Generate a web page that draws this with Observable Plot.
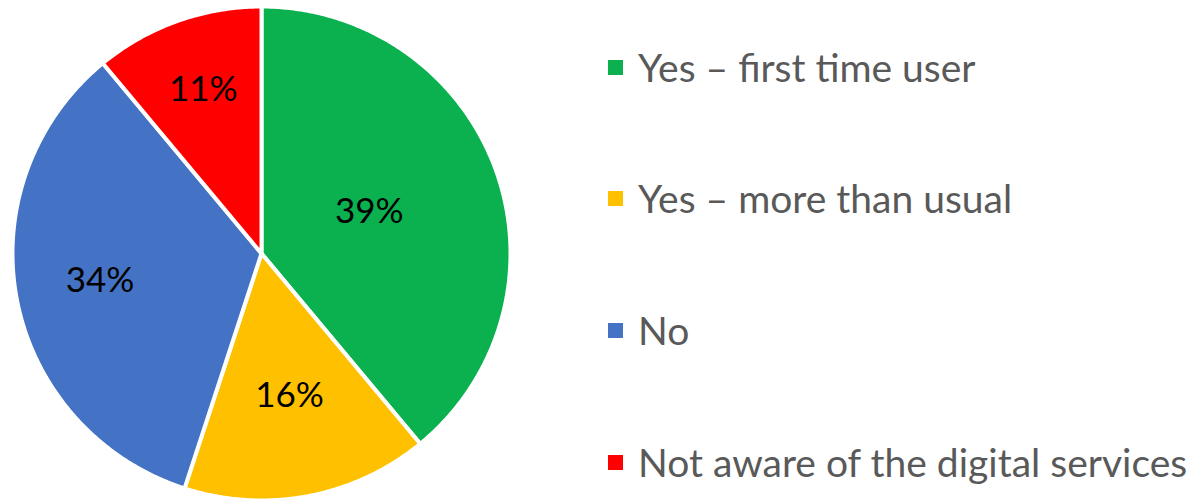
<!DOCTYPE html>
<html>
<head>
<meta charset="utf-8">
<script src="https://cdn.jsdelivr.net/npm/d3@7"></script>
<script src="https://cdn.jsdelivr.net/npm/@observablehq/plot@0.6"></script>
<style>
  html, body { margin: 0; padding: 0; background: #fff; }
  #wrap { position: relative; width: 1202px; height: 503px; overflow: hidden; }
  #chart { position: absolute; left: 0; top: 0; }
  #legend { position: absolute; left: 608px; top: 0; font-family: Lato, "Open Sans", sans-serif; color: #595959; }
  .item { position: absolute; left: 0; white-space: nowrap; display: flex; align-items: center; }
  .sw { width: 15px; height: 15px; margin-right: 15px; flex: none; }
  .lbl { font-size: 39px; line-height: 1; }
</style>
</head>
<body>
<div id="wrap">
  <div id="chart"></div>
  <div id="legend"></div>
</div>
<script>
const categories = ["Yes \u2013 first time user", "Yes \u2013 more than usual", "No", "Not aware of the digital services"];
const values = [39, 16, 34, 11];
const colors = ["#0BB04F", "#FFC000", "#4472C4", "#FF0000"];

// layout (label distance from centre as fraction of radius)
const labelR = [0.46, 0.6, 0.66, 0.69];

const total = d3.sum(values);
const slices = [];
const labels = [];
let acc = 0;
categories.forEach((cat, i) => {
  const a0 = acc / total * 2 * Math.PI;
  acc += values[i];
  const a1 = acc / total * 2 * Math.PI;
  slices.push({cat, x: 0, y: 0});
  const n = Math.max(2, Math.ceil((a1 - a0) / (Math.PI / 360)));
  for (let k = 0; k <= n; k++) {
    const a = a0 + (a1 - a0) * k / n;
    slices.push({cat, x: Math.sin(a), y: Math.cos(a)});
  }
  const am = (a0 + a1) / 2;
  labels.push({cat, x: labelR[i] * Math.sin(am), y: labelR[i] * Math.cos(am), text: values[i] + "%"});
});

const plot = Plot.plot({
  width: 520,
  height: 503,
  marginLeft: 12,
  marginRight: 10,
  marginTop: 6,
  marginBottom: 3,
  x: {domain: [-1, 1], axis: null},
  y: {domain: [-1, 1], axis: null},
  color: {domain: categories, range: colors},
  style: {background: "white"},
  marks: [
    Plot.line(slices, {x: "x", y: "y", z: "cat", fill: "cat", stroke: "white", strokeWidth: 4, curve: "linear-closed", strokeLinejoin: "round"}),
    Plot.text(labels, {x: "x", y: "y", text: "text", fill: "black", fontSize: 35, fontFamily: "Lato, 'Open Sans', sans-serif", dy: -3})
  ]
});
document.getElementById("chart").appendChild(plot);

const legend = document.getElementById("legend");
const rowY = [67, 198, 330, 462];
categories.forEach((cat, i) => {
  const item = document.createElement("div");
  item.className = "item";
  item.style.top = (rowY[i] - 20) + "px";
  item.style.height = "40px";
  const sw = document.createElement("div");
  sw.className = "sw";
  sw.style.background = colors[i];
  const lbl = document.createElement("span");
  lbl.className = "lbl";
  lbl.textContent = cat;
  item.appendChild(sw);
  item.appendChild(lbl);
  legend.appendChild(item);
});
</script>
</body>
</html>
